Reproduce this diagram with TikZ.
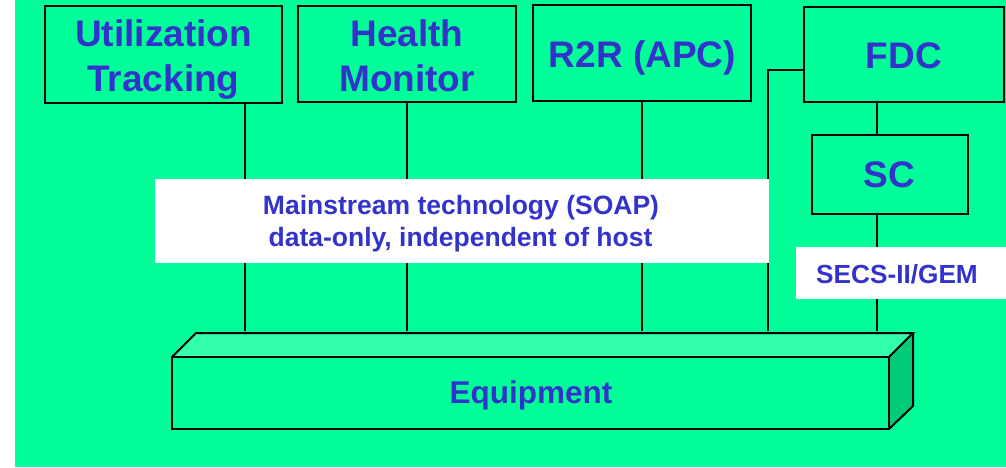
\documentclass[tikz,border=0pt]{standalone}
\usepackage{fontspec}
\setmainfont{Liberation Sans}
\definecolor{bg}{HTML}{00FF99}
\definecolor{topface}{HTML}{33FFAA}
\definecolor{sideface}{HTML}{00CC77}
\definecolor{txt}{HTML}{3333CC}
\tikzset{
  box/.style={draw=black, line width=2pt, fill=bg, inner sep=0pt},
  boxtext/.style={text=txt, font=\fontsize{37}{45}\selectfont\bfseries, anchor=base, inner sep=0pt},
  smalltext/.style={text=txt, font=\fontsize{26.5}{32}\selectfont\bfseries, anchor=base, inner sep=0pt},
  wbox/.style={fill=white, draw=none, inner sep=0pt},
  conn/.style={draw=black, line width=2pt},
  edge3d/.style={draw=black, line width=2pt, line join=miter}
}
\begin{document}
\begin{tikzpicture}[x=1pt,y=-1pt]
\useasboundingbox (0,0) rectangle (1006,467);
\fill[white] (0,0) rectangle (1006,467);
\fill[bg] (15,0) rectangle (1006,467);

% coordinates for connector columns and equipment top
\coordinate (eqtop) at (0,331);
\coordinate (lu) at (245,0);
\coordinate (lh) at (407,0);
\coordinate (lr) at (642,0);
\coordinate (lf) at (768,0);
\coordinate (ls) at (877,0);

% top boxes
\node[box, minimum width=237pt, minimum height=97pt] (ut) at (163.5,54.5) {};
\node[box, minimum width=218pt, minimum height=96pt] (hm) at (407,54) {};
\node[box, minimum width=218pt, minimum height=96pt] (rr) at (642,53) {};
\node[box, minimum width=200pt, minimum height=95pt] (fdc) at (904,54.5) {};
\node[box, minimum width=156pt, minimum height=79pt] (sc) at (890,174.5) {};
\node[boxtext] (ut1) at (163.5,46) {Utilization};
\node[boxtext] (ut2) at (163.5,91) {Tracking};
\node[boxtext] (hm1) at (407,46) {Health};
\node[boxtext] (hm2) at (407,91) {Monitor};
\node[boxtext] (rrt) at (642.5,67) {R2R (APC)};
\node[boxtext] (fdct) at (904,68) {FDC};
\node[boxtext] (sct) at (889.5,187) {SC};
\coordinate (fl) at (804,70);

% connectors
\draw[conn] (ut.south -| lu) -- (lu |- eqtop);
\draw[conn] (hm.south) -- (lh |- eqtop);
\draw[conn] (rr.south) -- (lr |- eqtop);
\draw[conn] (fl) -- (fl -| lf) -- (lf |- eqtop);
\draw[conn] (fdc.south -| ls) -- (sc.north -| ls);
\draw[conn] (sc.south -| ls) -- (ls |- eqtop);

% white label boxes
\node[wbox, minimum width=614pt, minimum height=84pt] (soap) at (462,221) {};
\node[smalltext] (soap1) at (461,214) {Mainstream technology (SOAP)};
\node[smalltext] (soap2) at (460.5,246) {data-only, independent of host};
\node[wbox, minimum width=210pt, minimum height=52pt] (secsbox) at (901,273) {};
\node[smalltext, font=\fontsize{26.2}{32}\selectfont\bfseries, anchor=base west] (secs) at (816,283) {SECS-II/GEM};

% equipment block
\fill[topface] (172,357) -- (196,333) -- (913,333) -- (889,357) -- cycle;
\fill[sideface] (889,357) -- (913,333) -- (913,406) -- (889,429) -- cycle;
\node[draw=black, line width=2pt, fill=bg, inner sep=0pt, minimum width=717pt, minimum height=72pt]
  (eq) at (530.5,393) {};
\draw[edge3d] (172,357) -- (196,333) -- (913,333) -- (889,357);
\draw[edge3d] (913,333) -- (913,406) -- (889,429);
\node[text=txt, font=\fontsize{31.5}{38}\selectfont\bfseries, anchor=base, inner sep=0pt]
  (eqlabel) at (531,403) {Equipment};
\end{tikzpicture}
\end{document}
